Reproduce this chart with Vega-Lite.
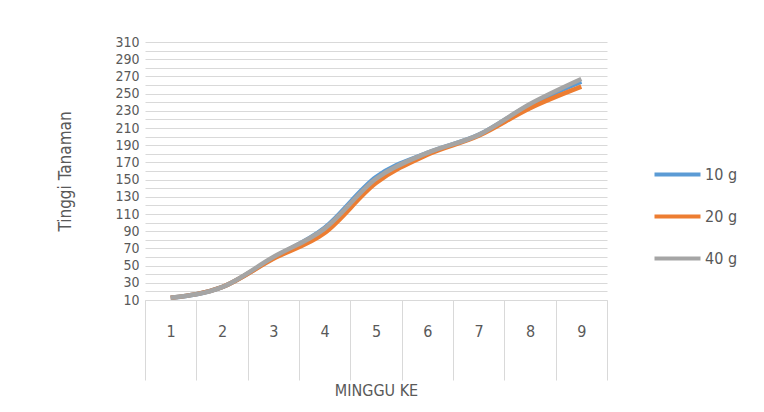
{
  "$schema": "https://vega.github.io/schema/vega-lite/v6.json",
  "autosize": "none",
  "width": 462,
  "height": 258,
  "padding": {"left": 145, "top": 42, "right": 157, "bottom": 112},
  "background": "white",
  "config": {
    "view": {"stroke": null},
    "font": "Liberation Sans Narrow, DejaVu Sans Condensed, sans-serif"
  },
  "data": {
    "values": [
      {"minggu": "1", "dosis": "10 g", "tinggi": 12.5},
      {"minggu": "2", "dosis": "10 g", "tinggi": 25},
      {"minggu": "3", "dosis": "10 g", "tinggi": 59},
      {"minggu": "4", "dosis": "10 g", "tinggi": 94},
      {"minggu": "5", "dosis": "10 g", "tinggi": 153},
      {"minggu": "6", "dosis": "10 g", "tinggi": 181},
      {"minggu": "7", "dosis": "10 g", "tinggi": 202},
      {"minggu": "8", "dosis": "10 g", "tinggi": 237},
      {"minggu": "9", "dosis": "10 g", "tinggi": 264},
      {"minggu": "1", "dosis": "20 g", "tinggi": 12.5},
      {"minggu": "2", "dosis": "20 g", "tinggi": 25},
      {"minggu": "3", "dosis": "20 g", "tinggi": 58},
      {"minggu": "4", "dosis": "20 g", "tinggi": 88},
      {"minggu": "5", "dosis": "20 g", "tinggi": 146},
      {"minggu": "6", "dosis": "20 g", "tinggi": 179},
      {"minggu": "7", "dosis": "20 g", "tinggi": 201},
      {"minggu": "8", "dosis": "20 g", "tinggi": 233},
      {"minggu": "9", "dosis": "20 g", "tinggi": 258},
      {"minggu": "1", "dosis": "40 g", "tinggi": 12.5},
      {"minggu": "2", "dosis": "40 g", "tinggi": 25},
      {"minggu": "3", "dosis": "40 g", "tinggi": 60},
      {"minggu": "4", "dosis": "40 g", "tinggi": 93},
      {"minggu": "5", "dosis": "40 g", "tinggi": 151},
      {"minggu": "6", "dosis": "40 g", "tinggi": 181},
      {"minggu": "7", "dosis": "40 g", "tinggi": 202},
      {"minggu": "8", "dosis": "40 g", "tinggi": 238},
      {"minggu": "9", "dosis": "40 g", "tinggi": 267}
    ]
  },
  "mark": {"type": "line", "strokeWidth": 4.5, "interpolate": "monotone", "strokeCap": "butt"},
  "encoding": {
    "x": {
      "field": "minggu",
      "type": "ordinal",
      "scale": {"paddingInner": 0, "paddingOuter": 0},
      "axis": {
        "title": "MINGGU KE",
        "titleFont": "Liberation Sans Narrow, DejaVu Sans Condensed, sans-serif",
        "titleFontSize": 16,
        "titleFontWeight": "normal",
        "titleColor": "#595959",
        "titlePadding": 2,
        "labelAngle": 0,
        "labelFontSize": 16,
        "labelColor": "#595959",
        "labelBaseline": "top",
        "labelPadding": -57,
        "tickBand": "extent",
        "tickSize": 80,
        "tickColor": "#d9d9d9",
        "domainColor": "#d9d9d9",
        "grid": false
      }
    },
    "y": {
      "field": "tinggi",
      "type": "quantitative",
      "scale": {"domain": [10, 310], "nice": false, "zero": false},
      "axis": {
        "title": "Tinggi Tanaman",
        "titleFont": "Liberation Sans Narrow, DejaVu Sans Condensed, sans-serif",
        "titleFontSize": 17,
        "titleFontWeight": "normal",
        "titleColor": "#595959",
        "titlePadding": 40,
        "values": [10, 20, 30, 40, 50, 60, 70, 80, 90, 100, 110, 120, 130, 140, 150, 160, 170, 180, 190, 200, 210, 220, 230, 240, 250, 260, 270, 280, 290, 300, 310],
        "labelExpr": "datum.value % 20 == 10 ? datum.label : ''",
        "labelOverlap": false,
        "labelFontSize": 14,
        "labelColor": "#595959",
        "labelPadding": 6,
        "ticks": false,
        "domain": false,
        "grid": true,
        "gridColor": "#d9d9d9",
        "gridWidth": 1
      }
    },
    "color": {
      "field": "dosis",
      "type": "nominal",
      "scale": {"domain": ["10 g", "20 g", "40 g"], "range": ["#5b9bd5", "#ed7d31", "#a5a5a5"]},
      "legend": {
        "title": null,
        "orient": "none",
        "legendX": 519,
        "legendY": 119,
        "symbolType": "M-2,0H2",
        "symbolSize": 529,
        "symbolStrokeWidth": 4,
        "labelOffset": 14,
        "labelFontSize": 16,
        "labelColor": "#595959",
        "rowPadding": 20
      }
    }
  }
}
